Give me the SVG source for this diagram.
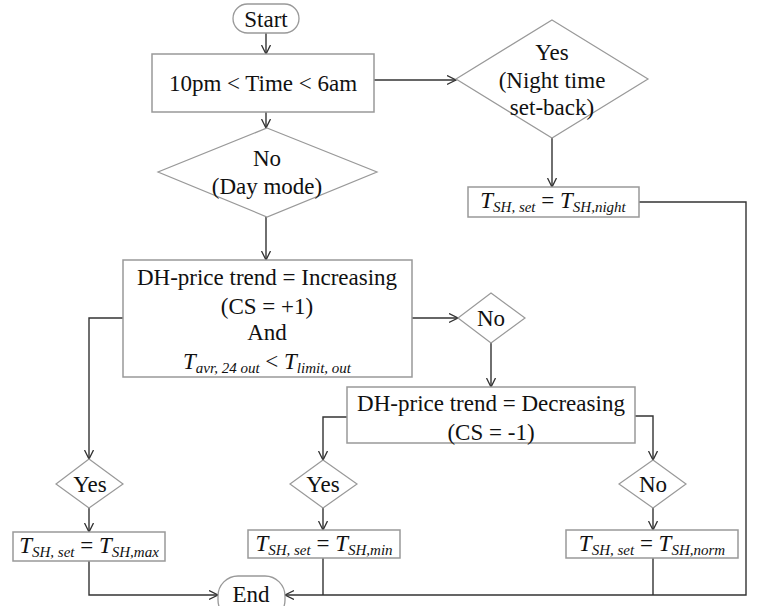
<svg xmlns="http://www.w3.org/2000/svg" width="763" height="606" viewBox="0 0 763 606">
<defs>
<style>
.box{fill:#fff;stroke:#999;stroke-width:1.5}
.dia{fill:#fff;stroke:#999;stroke-width:1.2}
.term{fill:#fff;stroke:#999;stroke-width:1.3}
.c{fill:none;stroke:#333;stroke-width:1.4}
text{font-family:"Liberation Serif","Times New Roman",serif;font-size:23px;fill:#111;text-anchor:middle}
.it{font-style:italic}
.sub{font-style:italic;font-size:15px}
</style>
<marker id="ar" markerUnits="userSpaceOnUse" markerWidth="12" markerHeight="12" refX="9" refY="5" orient="auto">
<path d="M0,0.5 L9,5 L0,9.5" fill="none" stroke="#333" stroke-width="1.3"/>
</marker>
</defs>
<rect width="763" height="606" fill="#fff"/>
<g id="connectors">
<path class="c" d="M266,33 V54" marker-end="url(#ar)"/>
<path class="c" d="M374,80 H456" marker-end="url(#ar)"/>
<path class="c" d="M266,112 V128" marker-end="url(#ar)"/>
<path class="c" d="M552,138 V187" marker-end="url(#ar)"/>
<path class="c" d="M639,202 H746 V595 H285" marker-end="url(#ar)"/>
<path class="c" d="M266,217 V260" marker-end="url(#ar)"/>
<path class="c" d="M123,318 H89 V459" marker-end="url(#ar)"/>
<path class="c" d="M412,318 H458" marker-end="url(#ar)"/>
<path class="c" d="M491,343 V387" marker-end="url(#ar)"/>
<path class="c" d="M347,417 H323 V460" marker-end="url(#ar)"/>
<path class="c" d="M635,416 H653 V460" marker-end="url(#ar)"/>
<path class="c" d="M89,508 V532" marker-end="url(#ar)"/>
<path class="c" d="M323,508 V530" marker-end="url(#ar)"/>
<path class="c" d="M653,508 V530" marker-end="url(#ar)"/>
<path class="c" d="M89,561 V595 H218" marker-end="url(#ar)"/>
<path class="c" d="M323,558 V595"/>
<path class="c" d="M653,558 V595"/>
</g>
<g id="start">
<rect class="term" x="233" y="4" width="66" height="29" rx="14.5"/>
<text x="266" y="27">Start</text>
</g>
<g id="time">
<rect class="box" x="152" y="54" width="222" height="58"/>
<text x="263" y="91">10pm &lt; Time &lt; 6am</text>
</g>
<g id="yes-night">
<polygon class="dia" points="552,20 648,79 552,138 456,79"/>
<text x="552" y="60">Yes</text>
<text x="552" y="88">(Night time</text>
<text x="552" y="115">set-back)</text>
</g>
<g id="night-set">
<rect class="box" x="468" y="187" width="171" height="30"/>
<text x="553" y="208"><tspan class="it">T</tspan><tspan class="sub" dy="4">SH, set</tspan><tspan dy="-4"> = </tspan><tspan class="it">T</tspan><tspan class="sub" dy="4">SH,night</tspan></text>
</g>
<g id="no-day">
<polygon class="dia" points="267,128 377,172 267,217 158,172"/>
<text x="267" y="166">No</text>
<text x="267" y="194">(Day mode)</text>
</g>
<g id="dh-increasing">
<rect class="box" x="123" y="260" width="289" height="117"/>
<text x="267" y="285">DH-price trend = Increasing</text>
<text x="267" y="314">(CS = +1)</text>
<text x="267" y="340">And</text>
<text x="267" y="369"><tspan class="it">T</tspan><tspan class="sub" dy="4">avr, 24 out</tspan><tspan dy="-4"> &lt; </tspan><tspan class="it">T</tspan><tspan class="sub" dy="4">limit, out</tspan></text>
</g>
<g id="no-1">
<polygon class="dia" points="491,293 525,318 491,343 458,318"/>
<text x="491" y="326">No</text>
</g>
<g id="dh-decreasing">
<rect class="box" x="347" y="387" width="288" height="56"/>
<text x="491" y="411">DH-price trend = Decreasing</text>
<text x="491" y="440">(CS = -1)</text>
</g>
<g id="yes-left">
<polygon class="dia" points="89,459 123,484 89,508 56,484"/>
<text x="90" y="492">Yes</text>
</g>
<g id="yes-mid">
<polygon class="dia" points="323,460 357,484 323,508 290,484"/>
<text x="323" y="492">Yes</text>
</g>
<g id="no-right">
<polygon class="dia" points="653,460 686,484 653,508 619,484"/>
<text x="653" y="492">No</text>
</g>
<g id="set-max">
<rect class="box" x="13" y="532" width="152" height="29"/>
<text x="89" y="553"><tspan class="it">T</tspan><tspan class="sub" dy="4">SH, set</tspan><tspan dy="-4"> = </tspan><tspan class="it">T</tspan><tspan class="sub" dy="4">SH,max</tspan></text>
</g>
<g id="set-min">
<rect class="box" x="248" y="530" width="152" height="28"/>
<text x="324" y="551"><tspan class="it">T</tspan><tspan class="sub" dy="4">SH, set</tspan><tspan dy="-4"> = </tspan><tspan class="it">T</tspan><tspan class="sub" dy="4">SH,min</tspan></text>
</g>
<g id="set-norm">
<rect class="box" x="566" y="530" width="172" height="28"/>
<text x="652" y="551"><tspan class="it">T</tspan><tspan class="sub" dy="4">SH, set</tspan><tspan dy="-4"> = </tspan><tspan class="it">T</tspan><tspan class="sub" dy="4">SH,norm</tspan></text>
</g>
<g id="end">
<rect class="term" x="218" y="576" width="67" height="44" rx="20"/>
<text x="251" y="602">End</text>
</g>
</svg>
